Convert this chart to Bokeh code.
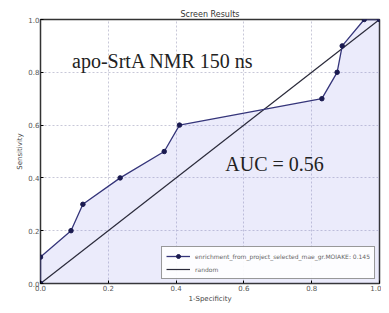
from bokeh.plotting import figure
from bokeh.models import Label, Legend, LegendItem, FixedTicker, PrintfTickFormatter
from bokeh.embed import file_html
from bokeh.resources import INLINE

# ROC curve data
fpr = [0.0, 0.0, 0.09, 0.125, 0.235, 0.365, 0.41, 0.83, 0.875, 0.89, 0.955, 1.0]
tpr = [0.0, 0.1, 0.2, 0.3, 0.4, 0.5, 0.6, 0.7, 0.8, 0.9, 1.0, 1.0]
rand_x = [0.0, 1.0]
rand_y = [0.0, 1.0]
ticks = [0.0, 0.2, 0.4, 0.6, 0.8, 1.0]
curve_label = "enrichment_from_project_selected_mae_gr.MOIAKE: 0.145"
random_label = "random"
title_text = "Screen Results"
annot1 = "apo-SrtA NMR 150 ns"
annot2 = "AUC = 0.56"

p = figure(width=381, height=305, output_backend="svg", toolbar_location=None,
           x_range=(0, 1), y_range=(0, 1),
           min_border_left=40, min_border_right=2, min_border_top=19, min_border_bottom=0)

p.title.text = title_text
p.title.align = "center"
p.title.text_font = "DejaVu Sans"
p.title.text_font_size = "8px"
p.title.text_font_style = "normal"
p.title.text_color = "#333333"
p.title.offset = 0
p.title.standoff = 2

p.outline_line_color = "#333333"
p.outline_line_width = 1.5

for ax in (p.xaxis[0], p.yaxis[0]):
    ax.ticker = FixedTicker(ticks=ticks)
    ax.formatter = PrintfTickFormatter(format="%.1f")
    ax.major_label_text_font = "DejaVu Sans"
    ax.major_label_text_font_size = "7px"
    ax.major_label_text_color = "#555555"
    ax.axis_label_text_font = "DejaVu Sans"
    ax.axis_label_text_font_size = "7px"
    ax.axis_label_text_font_style = "normal"
    ax.axis_label_text_color = "#444444"
    ax.axis_line_color = None
    ax.major_tick_out = 0
    ax.major_tick_in = 3
    ax.minor_tick_out = 0
    ax.minor_tick_in = 0
    ax.major_label_standoff = 1
    ax.axis_label_standoff = 1

p.xaxis[0].axis_label = "1-Specificity"
p.yaxis[0].axis_label = "Sensitivity"

p.grid.grid_line_color = "#c8c8d8"
p.grid.grid_line_dash = "2 2"
p.grid.grid_line_width = 1

p.varea(x=fpr, y1=[0.0] * len(fpr), y2=tpr, fill_color="#8080e8", fill_alpha=0.16)
rl = p.line(rand_x, rand_y, line_color="#2a2a3a", line_width=1.2)
cl = p.line(fpr, tpr, line_color="#35357a", line_width=1.3)
cs = p.scatter(fpr, tpr, size=4.5, fill_color="#1a1a50", line_color="#1a1a50")

p.add_layout(Label(x=0.093, y=0.8, text=annot1, text_font="Liberation Serif",
                   text_font_size="20px", text_color="#222222"))
p.add_layout(Label(x=0.545, y=0.41, text=annot2, text_font="Liberation Serif",
                   text_font_size="20px", text_color="#222222"))

legend = Legend(items=[LegendItem(label=curve_label, renderers=[cl, cs]),
                       LegendItem(label=random_label, renderers=[rl])],
                location="bottom_right")
legend.label_text_font = "DejaVu Sans"
legend.label_text_font_size = "6px"
legend.label_text_color = "#666666"
legend.glyph_width = 24
legend.glyph_height = 10
legend.label_height = 10
legend.spacing = 3
legend.padding = 4
legend.margin = 4
legend.border_line_color = "#333333"
legend.border_line_width = 1.2
legend.background_fill_alpha = 0.9
p.add_layout(legend)

open("out.html", "w").write(file_html(p, INLINE))
